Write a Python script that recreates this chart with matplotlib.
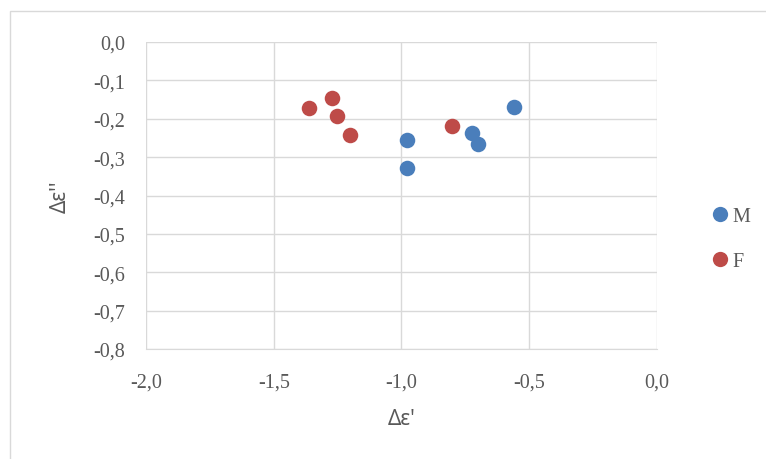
import matplotlib.pyplot as plt
from matplotlib.patches import Rectangle
from matplotlib.lines import Line2D

# data
m_x = [-0.978, -0.978, -0.724, -0.700, -0.560]
m_y = [-0.255, -0.328, -0.237, -0.266, -0.169]
f_x = [-1.362, -1.272, -1.252, -1.202, -0.802]
f_y = [-0.172, -0.146, -0.193, -0.242, -0.219]
x_ticks = [-2.0, -1.5, -1.0, -0.5, 0.0]
y_ticks = [0.0, -0.1, -0.2, -0.3, -0.4, -0.5, -0.6, -0.7, -0.8]

blue = '#4a7ebb'
red = '#be4b48'
grid = '#d9d9d9'
txt = '#595959'

fig = plt.figure(figsize=(7.66, 4.6), dpi=100)
ax = fig.add_axes([146/766, 1 - 350/460, (657 - 146)/766, (350 - 43)/460])

# outer chart border (only left/top visible in crop)
fig.patches.append(Rectangle((10/766, -0.1), 1.5, 1 - 12/460 + 0.1,
                             transform=fig.transFigure, fill=False,
                             edgecolor=grid, linewidth=1.0))

ax.scatter(m_x, m_y, s=125, color=blue, zorder=3, linewidths=0)
ax.scatter(f_x, f_y, s=125, color=red, zorder=3, linewidths=0)

ax.set_xlim(-2.0, 0.0)
ax.set_ylim(-0.8, 0.0)
ax.set_xticks(x_ticks)
ax.set_yticks(y_ticks)
ax.set_xticklabels([f'{v:.1f}'.replace('.', ',') for v in x_ticks],
                   family='Liberation Serif', fontsize=14.5, color=txt)
ax.set_yticklabels([f'{v:.1f}'.replace('.', ',') for v in y_ticks],
                   family='Liberation Serif', fontsize=14.5, color=txt)
ax.tick_params(axis='x', length=0, pad=17)
ax.tick_params(axis='y', length=0, pad=15)
ax.grid(True, color=grid, linewidth=1.0)
ax.set_axisbelow(True)
for s in ax.spines.values():
    s.set_visible(False)
ax.spines['bottom'].set_visible(True)
ax.spines['bottom'].set_color(grid)

ax.set_xlabel("Δε'", family='Noto Sans', fontsize=15, color=txt, labelpad=12)
ax.set_ylabel("Δε''", family='Noto Sans', fontsize=15, color=txt, labelpad=16)

handles = [Line2D([], [], marker='o', linestyle='', markersize=11,
                  markerfacecolor=blue, markeredgewidth=0),
           Line2D([], [], marker='o', linestyle='', markersize=11,
                  markerfacecolor=red, markeredgewidth=0)]
leg = fig.legend(handles, ['M', 'F'], loc='center left',
                 bbox_to_anchor=(690/766, 1 - 240/460), frameon=False,
                 handletextpad=0.0, labelspacing=1.3, handlelength=1.2,
                 prop={'family': 'Liberation Serif', 'size': 14.5})
for t in leg.get_texts():
    t.set_color(txt)

fig.savefig('out.png', dpi=100)
